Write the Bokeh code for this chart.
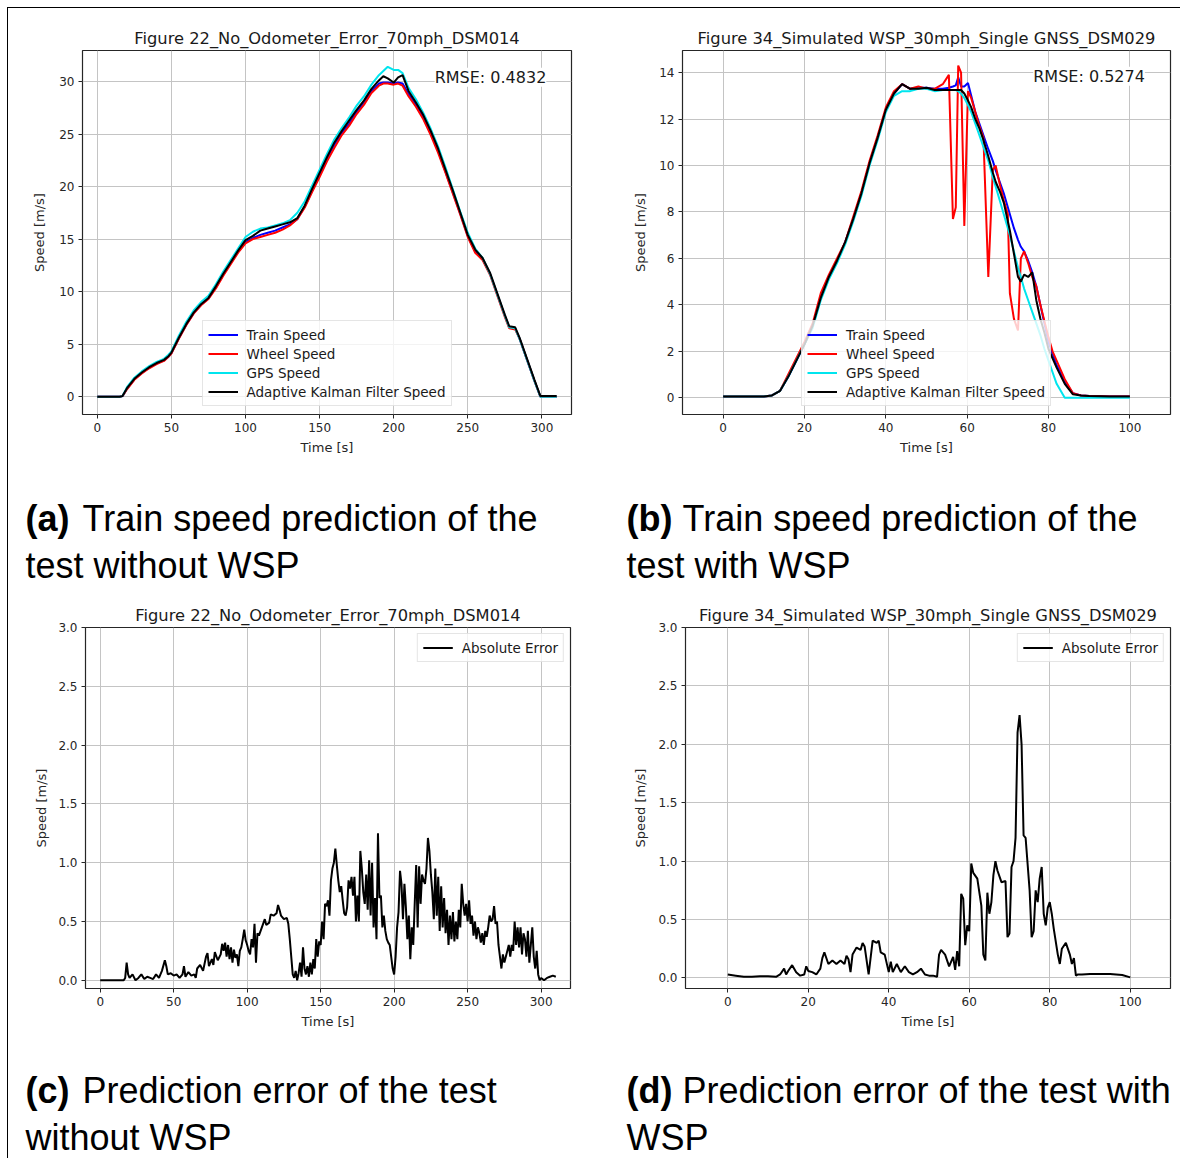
from bokeh.plotting import figure
from bokeh.layouts import column, row
from bokeh.models import Range1d, Label, FixedTicker, PrintfTickFormatter, Spacer
from bokeh.embed import file_html
from bokeh.resources import INLINE

FONT = "DejaVu Sans"
CAP_FONT = "Liberation Sans"

# ---------------- data ----------------
title_a = "Figure 22_No_Odometer_Error_70mph_DSM014"
title_b = "Figure 34_Simulated WSP_30mph_Single GNSS_DSM029"
series_names = ["Train Speed", "Wheel Speed", "GPS Speed", "Adaptive Kalman Filter Speed"]
series_colors = ["#0000ff", "#ff0000", "#00e5ee", "#000000"]
rmse_a = "RMSE: 0.4832"
rmse_b = "RMSE: 0.5274"
error_name = "Absolute Error"

a_time = [0, 5, 10, 15, 17, 20, 25, 30, 35, 40,
          45, 48, 50, 55, 60, 65, 70, 75, 80, 85,
          90, 95, 100, 105, 110, 115, 120, 125, 130, 135,
          140, 145, 150, 155, 160, 165, 170, 175, 180, 185,
          190, 193, 196, 200, 203, 206, 210, 215, 220, 225,
          230, 235, 240, 245, 250, 255, 260, 265, 270, 275,
          278, 282, 285, 290, 295, 299, 305, 310]
a_train = [0, 0, 0, 0, 0.05, 0.75, 1.65, 2.25, 2.75, 3.15,
           3.45, 3.8, 4.15, 5.55, 6.85, 7.95, 8.75, 9.35, 10.4, 11.6,
           12.7, 13.8, 14.7, 15.1, 15.4, 15.6, 15.8, 16.1, 16.4, 16.9,
           18.1, 19.6, 21.1, 22.6, 24.0, 25.1, 26.0, 27.1, 28.0, 29.1,
           29.8, 29.9, 29.9, 29.8, 29.9, 29.8, 28.8, 27.8, 26.6, 25.1,
           23.4, 21.4, 19.4, 17.4, 15.3, 13.8, 13.1, 11.7, 9.7, 7.7,
           6.6, 6.5, 5.5, 3.5, 1.5, 0.0, 0.0, 0.0]
a_wheel = [0, 0, 0, 0, 0.05, 0.7, 1.6, 2.2, 2.7, 3.1,
           3.4, 3.8, 4.1, 5.5, 6.8, 7.9, 8.7, 9.3, 10.3, 11.5,
           12.6, 13.7, 14.6, 15.0, 15.2, 15.4, 15.6, 15.9, 16.3, 16.9,
           18.0, 19.5, 20.9, 22.4, 23.7, 24.9, 25.8, 26.9, 27.8, 28.9,
           29.6, 29.8, 29.8, 29.7, 29.8, 29.6, 28.6, 27.6, 26.4, 24.9,
           23.2, 21.3, 19.3, 17.3, 15.2, 13.7, 13.0, 11.6, 9.6, 7.6,
           6.5, 6.4, 5.5, 3.5, 1.5, 0.0, 0.0, 0.0]
a_gps = [0, 0, 0, 0, 0.05, 0.9, 1.8, 2.4, 2.9, 3.3,
         3.6, 4.0, 4.3, 5.8, 7.1, 8.2, 9.0, 9.6, 10.7, 11.9,
         13.0, 14.1, 15.2, 15.7, 16.0, 16.1, 16.3, 16.5, 16.8, 17.5,
         18.6, 20.1, 21.6, 23.1, 24.5, 25.6, 26.6, 27.7, 28.6, 29.7,
         30.6, 31.0, 31.4, 31.1, 31.1, 30.8, 29.4, 28.3, 27.0, 25.5,
         23.8, 21.8, 19.7, 17.6, 15.6, 14.1, 13.2, 11.7, 9.7, 7.7,
         6.6, 6.5, 5.5, 3.5, 1.5, 0.0, 0.0, 0.0]
a_akf = [0, 0, 0, 0, 0.05, 0.8, 1.7, 2.3, 2.8, 3.2,
         3.5, 3.85, 4.2, 5.6, 6.9, 8.0, 8.8, 9.4, 10.5, 11.7,
         12.8, 13.9, 14.9, 15.3, 15.8, 16.0, 16.2, 16.4, 16.6, 17.0,
         18.2, 19.8, 21.3, 22.8, 24.2, 25.3, 26.3, 27.3, 28.2, 29.3,
         30.1, 30.5, 30.3, 29.9, 30.4, 30.6, 29.1, 28.0, 26.8, 25.3,
         23.6, 21.6, 19.6, 17.5, 15.4, 14.0, 13.2, 11.8, 9.8, 7.8,
         6.7, 6.6, 5.6, 3.6, 1.6, 0.05, 0.05, 0.05]

b_time = [0, 5, 10, 12, 14, 16, 18, 20, 22, 24,
          26, 28, 30, 32, 34, 36, 38, 40, 42, 44,
          46, 48, 50, 52, 54, 55.5, 56.5, 57.2, 57.8, 58.5,
          59.3, 60.2, 61, 62, 63, 64, 65.2, 66.3, 67, 68,
          69, 70, 70.5, 71.5, 72.5, 73.2, 74, 75, 76, 77,
          78, 79, 80, 81, 82, 84, 86, 88, 90, 95,
          100]
b_train = [0.05, 0.05, 0.05, 0.1, 0.3, 0.9, 1.6, 2.3, 3.1, 4.3,
           5.2, 5.9, 6.7, 7.7, 8.8, 10.1, 11.2, 12.4, 13.1, 13.5,
           13.3, 13.35, 13.35, 13.3, 13.3, 13.35, 13.4, 13.45, 13.8, 13.4,
           13.4, 13.55, 13.0, 12.3, 11.8, 11.3, 10.7, 10.2, 9.8, 9.3,
           8.8, 8.2, 7.9, 7.3, 6.8, 6.5, 6.3, 5.9, 5.4, 4.8,
           4.0, 3.2, 2.4, 1.9, 1.4, 0.7, 0.2, 0.1, 0.08, 0.06,
           0.05]
b_wheel = [0.05, 0.05, 0.05, 0.1, 0.3, 1.0, 1.7, 2.4, 3.2, 4.5,
           5.3, 6.0, 6.7, 7.8, 8.9, 10.2, 11.3, 12.5, 13.2, 13.5,
           13.3, 13.4, 13.3, 13.3, 13.5, 13.9, 7.7, 8.2, 14.3, 14.0,
           7.4, 13.2, 12.9, 12.3, 11.7, 11.2, 5.2, 9.8, 10.0, 9.2,
           8.5, 7.9, 4.5, 3.4, 2.9, 6.0, 6.3, 5.8, 5.2, 4.8,
           4.0, 3.3, 2.6, 2.0, 1.6, 0.8, 0.2, 0.1, 0.08, 0.06,
           0.05]
b_gps = [0.05, 0.05, 0.05, 0.1, 0.3, 0.9, 1.6, 2.3, 3.0, 4.2,
         5.1, 5.8, 6.6, 7.6, 8.7, 10.0, 11.1, 12.3, 13.0, 13.2,
         13.2, 13.3, 13.3, 13.2, 13.25, 13.25, 13.25, 13.25, 13.2, 13.1,
         12.9, 12.6, 12.3, 11.8, 11.3, 10.8, 10.2, 9.5, 9.1, 8.5,
         7.9, 7.3, 7.0, 6.3, 5.6, 5.2, 4.7, 4.2, 3.7, 3.2,
         2.7, 2.1, 1.6, 1.1, 0.6, 0.0, 0.0, 0.0, 0.0, 0.0,
         0.0]
b_akf = [0.05, 0.05, 0.05, 0.1, 0.3, 0.9, 1.6, 2.3, 3.1, 4.3,
         5.2, 5.9, 6.7, 7.7, 8.8, 10.1, 11.2, 12.4, 13.1, 13.5,
         13.3, 13.3, 13.35, 13.25, 13.25, 13.25, 13.25, 13.25, 13.25, 13.25,
         13.1, 12.8, 12.5, 12.0, 11.6, 11.1, 10.4, 9.7, 9.3, 8.9,
         8.4, 7.6, 7.2, 6.2, 5.2, 5.0, 5.3, 5.2, 5.4, 4.2,
         3.4, 2.8, 2.1, 1.7, 1.3, 0.6, 0.15, 0.1, 0.08, 0.06,
         0.05]

c_time = [0, 5, 10, 16, 17, 18, 19, 20, 22, 24,
          26, 28, 30, 32, 34, 36, 38, 40, 42, 44,
          45, 46, 48, 50, 52, 54, 56, 57, 58, 60,
          62, 64, 65, 66, 68, 70, 72, 73, 74, 76,
          77, 78, 80, 82, 83, 84, 85, 86, 87, 88,
          89, 90, 91, 92, 93, 94, 95, 96, 97, 98,
          99, 100, 101, 102, 103, 104, 105, 106, 107, 108,
          110, 112, 113, 115, 116, 118, 120, 121, 122, 123,
          125, 127, 128, 129, 130, 131, 132, 133, 134, 135,
          136, 137, 138, 139, 140, 141, 142, 143, 144, 145,
          146, 147, 148, 149, 150, 151, 152, 153, 154, 155,
          156, 157, 158, 159, 160, 161, 162, 163, 164, 165,
          166, 167, 168, 169, 170, 171, 172, 173, 174, 175,
          176, 177, 178, 179, 180, 181, 182, 183, 184, 185,
          186, 187, 188, 189, 190, 191, 192, 193, 194, 195,
          196, 197, 198, 199, 200, 201, 202, 203, 204, 205,
          206, 207, 208, 209, 210, 211, 212, 213, 214, 215,
          216, 217, 218, 219, 220, 221, 222, 223, 224, 225,
          226, 227, 228, 229, 230, 231, 232, 233, 234, 235,
          236, 237, 238, 239, 240, 241, 242, 243, 244, 245,
          246, 247, 248, 249, 250, 251, 252, 253, 254, 255,
          256, 257, 258, 259, 260, 261, 262, 263, 264, 265,
          266, 267, 268, 269, 270, 271, 272, 273, 274, 275,
          276, 277, 278, 279, 280, 281, 282, 283, 284, 285,
          286, 287, 288, 289, 290, 291, 292, 293, 294, 295,
          296, 297, 298, 299, 300, 302, 304, 306, 308, 310]
c_error = [0, 0, 0, 0, 0.02, 0.15, 0.05, 0.02, 0.05, 0.0,
           0.02, 0.05, 0.01, 0.03, 0.02, 0.01, 0.05, 0.02, 0.08, 0.17,
           0.12, 0.05, 0.06, 0.04, 0.05, 0.02, 0.05, 0.12, 0.03, 0.07,
           0.04, 0.05, 0.02, 0.1, 0.13, 0.08, 0.2, 0.23, 0.12, 0.18,
           0.13, 0.24, 0.17, 0.22, 0.31, 0.25, 0.32, 0.2, 0.3, 0.18,
           0.28, 0.15, 0.26, 0.19, 0.22, 0.12, 0.25, 0.28, 0.35, 0.43,
           0.34, 0.3, 0.25, 0.22, 0.35, 0.28, 0.48, 0.15, 0.4, 0.38,
           0.45, 0.52, 0.47, 0.49, 0.56, 0.55, 0.57, 0.64, 0.6, 0.55,
           0.52, 0.53, 0.48, 0.35, 0.2, 0.05, 0.02, 0.08, 0.0, 0.06,
           0.15, 0.03, 0.28, 0.1, 0.05, 0.12, 0.03, 0.15, 0.05, 0.18,
           0.1, 0.35, 0.2, 0.33, 0.3, 0.5, 0.35, 0.65, 0.63, 0.68,
           0.55, 0.85, 0.95, 1.0, 1.12, 0.98, 0.85, 0.75, 0.8, 0.68,
           0.57, 0.55, 0.62, 0.85, 0.78, 0.88, 0.72, 0.88, 0.5, 0.72,
           0.5, 1.1, 0.95, 0.75, 0.65, 0.9, 0.6, 1.02, 0.55, 1.0,
           0.45, 0.7, 0.35, 1.25, 0.7, 0.72, 0.45, 0.55, 0.42, 0.35,
           0.32, 0.3, 0.2, 0.1, 0.05, 0.2, 0.45, 0.58, 0.93, 0.82,
           0.52, 0.82, 0.62, 0.35, 0.55, 0.18, 0.45, 0.3, 0.65, 0.98,
           0.45, 0.97, 0.65, 0.9, 0.85, 0.82, 0.95, 1.21, 1.1, 0.9,
           0.75, 0.52, 0.95, 0.55, 0.88, 0.42, 0.8, 0.45, 0.7, 0.4,
           0.6, 0.3, 0.55, 0.35, 0.58, 0.33, 0.5, 0.35, 0.6, 0.45,
           0.82, 0.65, 0.55, 0.65, 0.5, 0.68, 0.48, 0.55, 0.38, 0.5,
           0.35, 0.45, 0.4, 0.32, 0.4, 0.3, 0.42, 0.37, 0.45, 0.55,
           0.5, 0.52, 0.63, 0.48, 0.5, 0.3, 0.2, 0.1, 0.22, 0.15,
           0.2, 0.25, 0.3, 0.2, 0.3, 0.25, 0.5, 0.3, 0.45, 0.28,
           0.45, 0.22, 0.4, 0.35, 0.2, 0.42, 0.15, 0.3, 0.45, 0.2,
           0.1, 0.25, 0.05, 0.0, 0.02, 0.0, 0.02, 0.03, 0.04, 0.03]

d_time = [0, 2, 4, 6, 8, 10, 12, 13, 14, 14.5,
          15, 16, 17, 18, 19, 19.5, 20, 21, 22, 23,
          23.5, 24, 25, 26, 27, 28, 29, 29.5, 30, 30.5,
          31, 32, 33, 33.5, 34, 35, 36, 37, 37.5, 38,
          39, 40, 40.5, 41, 42, 43, 44, 45, 46, 47,
          48, 49, 50, 51, 52, 52.5, 53, 54, 55, 56,
          56.5, 57, 57.5, 58, 58.5, 59, 59.5, 60, 60.5, 61,
          62, 63, 63.5, 64, 64.5, 65, 65.5, 66, 66.5, 67,
          68, 69, 69.5, 70, 70.5, 71, 71.5, 72, 72.5, 73,
          73.5, 74, 75, 75.5, 76, 76.5, 77, 77.5, 78, 78.5,
          79, 79.5, 80, 80.5, 81, 82, 82.5, 83, 84, 85,
          85.5, 86, 86.5, 87, 88, 90, 95, 98, 100]
d_error = [0.03, 0.02, 0.01, 0.01, 0.015, 0.015, 0.01, 0.03, 0.08, 0.03,
           0.06, 0.11, 0.05, 0.02, 0.03, 0.1, 0.06, 0.05, 0.03, 0.08,
           0.17, 0.22, 0.12, 0.15, 0.12, 0.15, 0.12, 0.19, 0.16, 0.05,
           0.2, 0.26, 0.24, 0.3, 0.27, 0.03, 0.32, 0.3, 0.32, 0.22,
           0.2, 0.05, 0.14, 0.05, 0.12, 0.05, 0.1, 0.05, 0.03, 0.05,
           0.08, 0.03, 0.02, 0.02, 0.01, 0.2, 0.24, 0.2, 0.1, 0.18,
           0.07, 0.23, 0.1, 0.72, 0.68, 0.28, 0.45, 0.4, 0.98, 0.9,
           0.85, 0.62, 0.2, 0.15, 0.73, 0.55, 0.65, 0.88, 1.0, 0.92,
           0.82, 0.83, 0.35, 0.38, 0.95, 1.0, 1.2, 2.1, 2.25, 2.0,
           1.22, 1.2, 0.75, 0.35, 0.4, 0.75, 0.65, 0.85, 0.95, 0.55,
           0.45, 0.6, 0.65, 0.55, 0.42, 0.2, 0.12, 0.25, 0.3, 0.2,
           0.12, 0.17, 0.02, 0.03, 0.03, 0.035, 0.035, 0.025, 0.005]

ticks_300 = [0, 50, 100, 150, 200, 250, 300]
ticks_100 = [0, 20, 40, 60, 80, 100]
ticks_a_y = [0, 5, 10, 15, 20, 25, 30]
ticks_b_y = [0, 2, 4, 6, 8, 10, 12, 14]
ticks_err_y = [0.0, 0.5, 1.0, 1.5, 2.0, 2.5, 3.0]

captions = [
    ("(a)", "Train speed prediction of the", "test without WSP"),
    ("(b)", "Train speed prediction of the", "test with WSP"),
    ("(c)", "Prediction error of the test", "without WSP"),
    ("(d)", "Prediction error of the test with", "WSP"),
]


# ---------------- helpers ----------------
def make_panel(title, xr, yr, xticks, yticks, fw, fh, left, right, top, bottom, ystandoff, yfmt=None):
    p = figure(title=title, x_range=Range1d(*xr), y_range=Range1d(*yr),
               frame_width=fw, frame_height=fh,
               min_border_left=left, min_border_right=right,
               min_border_top=top, min_border_bottom=bottom,
               output_backend="svg", toolbar_location=None)
    p.background_fill_color = "white"
    p.border_fill_color = "white"
    p.outline_line_color = "#262626"
    p.outline_line_width = 1.2
    p.outline_line_alpha = 1.0
    p.title.text_font = FONT
    p.title.text_font_size = "16.3px"
    p.title.text_font_style = "normal"
    p.title.text_color = "#1a1a1a"
    p.title.align = "center"
    p.title.standoff = 6
    p.xaxis.ticker = FixedTicker(ticks=xticks)
    p.yaxis.ticker = FixedTicker(ticks=yticks)
    if yfmt:
        p.yaxis.formatter = PrintfTickFormatter(format=yfmt)
    for ax in (p.xaxis[0], p.yaxis[0]):
        ax.axis_line_color = None
        ax.major_tick_line_color = "#262626"
        ax.major_tick_line_width = 1
        ax.major_tick_out = 4
        ax.major_tick_in = 0
        ax.minor_tick_line_color = None
        ax.major_label_text_font = FONT
        ax.major_label_text_font_size = "12px"
        ax.major_label_text_color = "#262626"
        ax.major_label_standoff = 4
        ax.axis_label_text_font = FONT
        ax.axis_label_text_font_size = "13px"
        ax.axis_label_text_font_style = "normal"
        ax.axis_label_text_color = "#262626"
    p.xaxis[0].axis_label = "Time [s]"
    p.xaxis[0].axis_label_standoff = 5
    p.yaxis[0].axis_label = "Speed [m/s]"
    p.yaxis[0].axis_label_standoff = ystandoff
    p.grid.grid_line_color = "#c4c4c4"
    p.grid.grid_line_width = 1
    return p


def style_legend(p, loc, margin):
    lg = p.legend[0]
    lg.location = loc
    lg.label_text_font = FONT
    lg.label_text_font_size = "13.5px"
    lg.label_text_color = "#1a1a1a"
    lg.glyph_width = 30
    lg.glyph_height = 17
    lg.label_height = 17
    lg.label_standoff = 9
    lg.spacing = 2
    lg.padding = 5
    lg.margin = margin
    lg.border_line_color = "#cccccc"
    lg.border_line_width = 1
    lg.background_fill_color = "white"
    lg.background_fill_alpha = 0.8


def add_rmse(p, x, y, text):
    p.add_layout(Label(x=x, y=y, text=text, text_align="right", text_baseline="top",
                       text_font=FONT, text_font_size="16px", text_color="#1a1a1a",
                       background_fill_color="white", background_fill_alpha=1.0))


def caption_fig(w, h, tag, line1, line2, x_tag, x_text):
    c = figure(width=w, height=h, x_range=Range1d(0, w), y_range=Range1d(h, 0),
               x_axis_type=None, y_axis_type=None, min_border=0,
               output_backend="svg", toolbar_location=None)
    c.grid.visible = False
    c.outline_line_color = None
    c.background_fill_color = "white"
    c.border_fill_color = "white"
    common = dict(text_font=CAP_FONT, text_font_size="36px", text_color="#000000",
                  text_baseline="alphabetic", text_align="left")
    c.add_layout(Label(x=x_tag, y=40, text=tag, text_font_style="bold", **common))
    c.add_layout(Label(x=x_text, y=40, text=line1, **common))
    c.add_layout(Label(x=x_tag, y=87, text=line2, **common))
    return c


# ---------------- panel (a) ----------------
pa = make_panel(title_a, (-10, 320), (-1.7, 32.95), ticks_300, ticks_a_y,
                489, 364, 74, 49, 42, 64, 9)
for ys, name, col in zip([a_train, a_wheel, a_gps, a_akf], series_names, series_colors):
    pa.line(a_time, ys, line_color=col, line_width=2, legend_label=name)
style_legend(pa, "bottom_center", 8)
add_rmse(pa, 303, 31.3, rmse_a)

# ---------------- panel (b) ----------------
pb = make_panel(title_b, (-10, 110), (-0.72, 14.95), ticks_100, ticks_b_y,
                488, 364, 62, 10, 42, 64, 8)
for ys, name, col in zip([b_train, b_wheel, b_gps, b_akf], series_names, series_colors):
    pb.line(b_time, ys, line_color=col, line_width=2, legend_label=name)
style_legend(pb, "bottom_center", 8)
add_rmse(pb, 103.7, 14.25, rmse_b)

# ---------------- panel (c) ----------------
pc = make_panel(title_a, (-10, 320), (-0.07, 3.0), ticks_300, ticks_err_y,
                485, 361, 77, 50, 37, 62, 6, "%.1f")
pc.line(c_time, c_error, line_color="#000000", line_width=2, legend_label=error_name)
style_legend(pc, "top_right", 6)

# ---------------- panel (d) ----------------
pd_ = make_panel(title_b, (-10.5, 110), (-0.09, 3.0), ticks_100, ticks_err_y,
                 485, 361, 65, 10, 37, 62, 7, "%.1f")
pd_.line(d_time, d_error, line_color="#000000", line_width=2, legend_label=error_name)
style_legend(pd_, "top_right", 6)

# ---------------- captions ----------------
cap_a = caption_fig(612, 112, *captions[0], 17, 74)
cap_b = caption_fig(560, 112, *captions[1], 6, 62)
cap_c = caption_fig(612, 108, *captions[2], 17, 74)
cap_d = caption_fig(560, 108, *captions[3], 6, 62)

inner = column(row(pa, pb), row(cap_a, cap_b), row(pc, pd_), row(cap_c, cap_d),
               styles={"border-left": "1px solid #000", "border-top": "1px solid #000",
                       "background-color": "white"})
layout = column(Spacer(height=7), row(Spacer(width=7), inner))

open("out.html", "w").write(file_html(layout, INLINE))
